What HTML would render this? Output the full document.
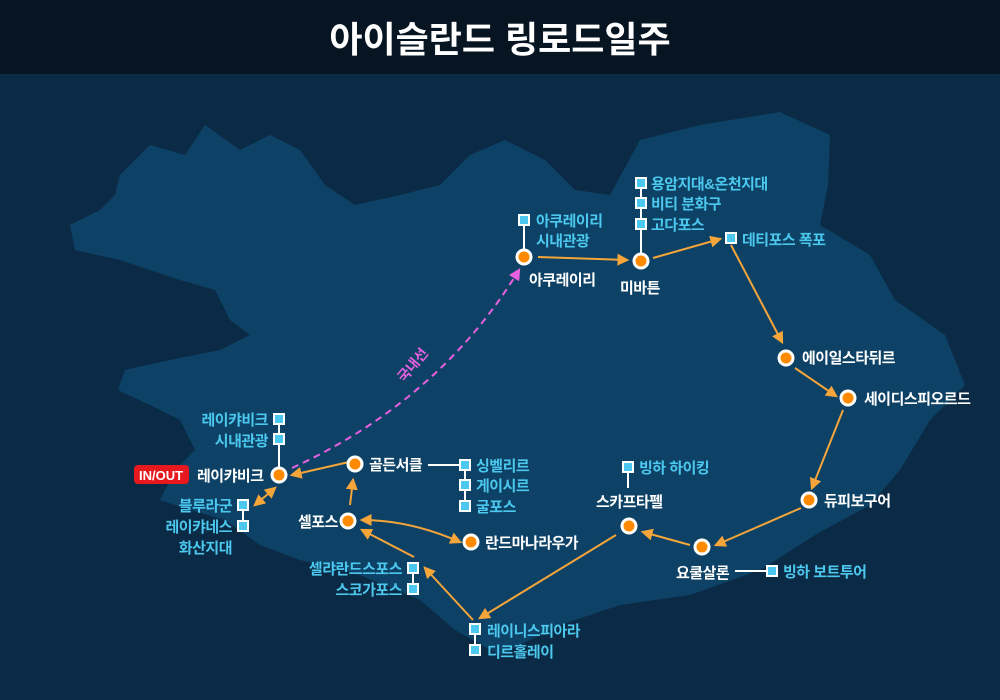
<!DOCTYPE html>
<html><head><meta charset="utf-8"><style>
body{margin:0;width:1000px;height:700px;overflow:hidden;background:#0b2a45;font-family:"Liberation Sans","Noto Sans CJK KR",sans-serif}
</style></head><body>
<svg width="1000" height="700" xmlns="http://www.w3.org/2000/svg" style="position:absolute;left:0;top:0">
<defs><marker id="a" viewBox="0 0 10 10" refX="8" refY="5" markerWidth="6" markerHeight="6" orient="auto-start-reverse"><path d="M0,0L10,5L0,10z" fill="#f5a53a"/></marker>
<marker id="p" viewBox="0 0 10 10" refX="8" refY="5" markerWidth="6" markerHeight="6" orient="auto"><path d="M0,0L10,5L0,10z" fill="#e860e0"/></marker></defs>
<rect width="1000" height="700" fill="#0b2a45"/>
<rect width="1000" height="74" fill="#061521"/>
<text x="500" y="52" font-size="36" font-weight="bold" fill="#fff" text-anchor="middle">아이슬란드 링로드일주</text>
<path fill="#0d4266" d="M120,175 L150,145 L185,155 L205,125 L240,150 L270,135 L300,150 L325,185 L355,205 L400,195 L440,185 L470,155 L505,140 L545,160 L575,190 L610,195 L640,140 L700,125 L780,112 L830,135 L828,185 L820,225 L870,255 L895,300 L945,335 L965,385 L930,420 L900,470 L870,505 L815,535 L760,570 L690,595 L620,605 L560,625 L500,655 L455,630 L420,600 L360,575 L300,560 L260,545 L225,520 L190,510 L160,500 L175,470 L195,450 L180,420 L150,405 L118,390 L125,370 L170,360 L220,350 L250,335 L230,320 L215,290 L180,280 L150,270 L120,260 L75,250 L70,225 L100,210 L115,195Z"/>
<g fill="none" stroke="#f5a53a" stroke-width="2">
<path d="M349,462 L292,475" marker-end="url(#a)"/>
<path d="M350,505 L353,480" marker-end="url(#a)"/>
<path d="M460,542 Q410,520 362,520" marker-end="url(#a)" marker-start="url(#a)"/>
<path d="M414,557 L362,530" marker-end="url(#a)"/>
<path d="M473,620 L425,568" marker-end="url(#a)"/>
<path d="M616,535 L480,618" marker-end="url(#a)"/>
<path d="M690,545 L643,532" marker-end="url(#a)"/>
<path d="M801,508 L716,545" marker-end="url(#a)"/>
<path d="M843,410 L812,488" marker-end="url(#a)"/>
<path d="M795,368 L836,396" marker-end="url(#a)"/>
<path d="M731,245 L782,342" marker-end="url(#a)"/>
<path d="M653,258 L720,239" marker-end="url(#a)"/>
<path d="M538,257 L627,260" marker-end="url(#a)"/>
<path d="M255,505 L275,488" marker-end="url(#a)" marker-start="url(#a)"/>
</g>
<path d="M292,468 Q440,400 519,270" fill="none" stroke="#e860e0" stroke-width="2" stroke-dasharray="7,5" marker-end="url(#p)"/>
<text x="404" y="383" fill="#e860e0" font-size="14" font-weight="bold" transform="rotate(-50 404 383)">국내선</text>
<g stroke="#fff" stroke-width="2">
<line x1="279" y1="419" x2="279" y2="470"/><line x1="243" y1="505" x2="243" y2="527"/>
<line x1="428" y1="465" x2="465" y2="465"/><line x1="465" y1="465" x2="465" y2="507"/>
<line x1="413" y1="568" x2="413" y2="589"/><line x1="475" y1="629" x2="475" y2="650"/>
<line x1="628" y1="467" x2="628" y2="488"/><line x1="735" y1="571" x2="772" y2="571"/>
<line x1="524" y1="219" x2="524" y2="250"/><line x1="641" y1="183" x2="641" y2="255"/>
</g>
<g fill="#4cc8ee" stroke="#fff" stroke-width="2">
<rect x="274" y="414" width="10" height="10"/><rect x="274" y="434" width="10" height="10"/>
<rect x="238" y="500" width="10" height="10"/><rect x="238" y="521" width="10" height="10"/>
<rect x="460" y="460" width="10" height="10"/><rect x="460" y="480" width="10" height="10"/><rect x="460" y="501" width="10" height="10"/>
<rect x="408" y="563" width="10" height="10"/><rect x="408" y="584" width="10" height="10"/>
<rect x="470" y="624" width="10" height="10"/><rect x="470" y="645" width="10" height="10"/>
<rect x="623" y="462" width="10" height="10"/><rect x="767" y="566" width="10" height="10"/>
<rect x="726" y="233" width="10" height="10"/><rect x="519" y="215" width="10" height="10"/>
<rect x="636" y="178" width="10" height="10"/><rect x="636" y="198" width="10" height="10"/><rect x="636" y="219" width="10" height="10"/>
</g>
<g fill="#ff8a00" stroke="#fff" stroke-width="3">
<circle cx="279" cy="475" r="7"/><circle cx="355" cy="464" r="7"/><circle cx="348" cy="521" r="7"/>
<circle cx="471" cy="542" r="7"/><circle cx="629" cy="526" r="7"/><circle cx="702" cy="547" r="7"/>
<circle cx="809" cy="500" r="7"/><circle cx="848" cy="398" r="7"/><circle cx="786" cy="358" r="7"/>
<circle cx="641" cy="261" r="7"/><circle cx="524" cy="257" r="7"/>
</g>
<rect x="134" y="465" width="55" height="19" rx="4" fill="#e8191e"/>
<text x="161" y="480" fill="#fff" font-size="13" font-weight="bold" text-anchor="middle">IN/OUT</text>
<g font-size="15" font-weight="bold" fill="#fff" letter-spacing="-0.5">
<text x="197" y="481">레이캬비크</text><text x="369" y="470">골든서클</text>
<text x="298" y="527">셀포스</text><text x="485" y="548">란드마나라우가</text>
<text x="596" y="507">스카프타펠</text><text x="676" y="578">요쿨살론</text>
<text x="824" y="506">듀피보구어</text><text x="864" y="404">세이디스피오르드</text>
<text x="802" y="363">에이일스타뒤르</text><text x="620" y="293">미바튼</text><text x="529" y="285">아쿠레이리</text>
</g>
<g font-size="15" font-weight="bold" fill="#4cc8ee" letter-spacing="-0.5">
<text x="268" y="425" text-anchor="end">레이캬비크</text><text x="268" y="446" text-anchor="end">시내관광</text>
<text x="232" y="511" text-anchor="end">블루라군</text><text x="232" y="532" text-anchor="end">레이캬네스</text><text x="232" y="553" text-anchor="end">화산지대</text>
<text x="476" y="471">싱벨리르</text><text x="476" y="491">게이시르</text><text x="476" y="512">굴포스</text>
<text x="402" y="574" text-anchor="end">셀랴란드스포스</text><text x="402" y="595" text-anchor="end">스코가포스</text>
<text x="487" y="636">레이니스피아라</text><text x="487" y="657">디르홀레이</text>
<text x="639" y="473">빙하 하이킹</text><text x="783" y="577">빙하 보트투어</text>
<text x="742" y="245">데티포스 폭포</text>
<text x="536" y="226">아쿠레이리</text><text x="536" y="246">시내관광</text>
<text x="651" y="189">용암지대&amp;온천지대</text><text x="651" y="209">비티 분화구</text><text x="651" y="230">고다포스</text>
</g>
</svg>
</body></html>
